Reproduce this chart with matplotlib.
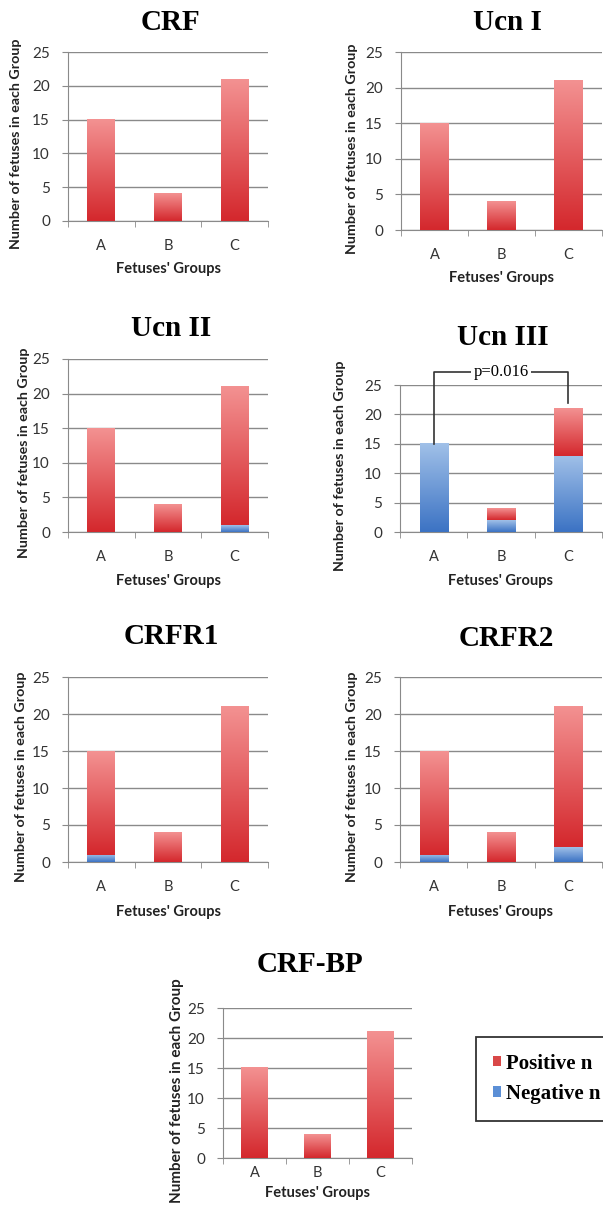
import numpy as np
import matplotlib
matplotlib.use("Agg")
import matplotlib.pyplot as plt
from matplotlib.patches import Patch

groups = ["A", "B", "C"]
titles = ["CRF", "Ucn I", "Ucn II", "Ucn III", "CRFR1", "CRFR2", "CRF-BP"]
negative = [[0, 0, 0], [0, 0, 0], [0, 0, 1], [15, 2, 13], [1, 0, 0], [1, 0, 2], [0, 0, 0]]
positive = [[15, 4, 21], [15, 4, 21], [15, 4, 20], [0, 2, 8], [14, 4, 21], [14, 4, 19], [15, 4, 21]]
yticks = [0, 5, 10, 15, 20, 25]
p_text = "p=0.016"

W, H = 603, 1217
fig = plt.figure(figsize=(W / 100, H / 100), dpi=100)

# axes boxes in pixels: left, right, top, bottom
boxes = [(68, 268, 52, 221), (401, 602, 52, 230),
         (68, 268, 359, 532), (400, 602, 385, 532),
         (68, 268, 677, 862), (400, 602, 677, 862),
         (223, 412, 1008, 1158)]
title_pos = [(171, 23), (507, 23), (171, 328), (503, 337), (171, 637), (506, 638), (310, 965)]
ylab_x = [16, 352, 24, 340, 21, 352, 177]
ylab_size = [10.3, 10.3, 10.3, 10.3, 10.3, 10.3, 11]
xlab_y = [269, 278, 581, 581, 912, 912, 1193]
xtick_pad = [13, 13, 13, 13, 13, 13, 6]

sans = "Lato"
serif = "Liberation Serif"
grey = "#8a8a8a"

red_top, red_bot = np.array([243, 145, 145]) / 255, np.array([212, 40, 45]) / 255
blue_top, blue_bot = np.array([160, 192, 232]) / 255, np.array([60, 115, 196]) / 255


def shade(ax, bars, top, bot):
    t = np.linspace(0, 1, 64)[:, None]
    img = (bot[None, :] * (1 - t) + top[None, :] * t)[:, None, :]
    for p in bars:
        h = p.get_height()
        if h <= 0:
            continue
        x, y, w = p.get_x(), p.get_y(), p.get_width()
        ax.imshow(img, extent=[x, x + w, y, y + h], origin="lower",
                  aspect="auto", interpolation="bilinear", zorder=3)


for i, title in enumerate(titles):
    l, r, t, b = boxes[i]
    ax = fig.add_axes([l / W, 1 - b / H, (r - l) / W, (b - t) / H])
    x = np.arange(len(groups))
    nb = ax.bar(x, negative[i], width=0.42, color=blue_bot, zorder=2)
    pb = ax.bar(x, positive[i], width=0.42, bottom=negative[i], color=red_bot, zorder=2)
    shade(ax, nb, blue_top, blue_bot)
    shade(ax, pb, red_top, red_bot)
    ax.set_xlim(-0.5, 2.5)
    ax.set_ylim(0, 25)
    ax.set_yticks(yticks)
    ax.set_xticks(x)
    ax.set_xticklabels(groups)
    ax.set_xticks([-0.5, 0.5, 1.5, 2.5], minor=True)
    ax.tick_params(axis="x", which="major", length=0, pad=xtick_pad[i], labelsize=10.5,
                   labelcolor="#333333")
    ax.tick_params(axis="x", which="minor", length=4, color=grey, direction="out")
    ax.tick_params(axis="y", length=4, color=grey, pad=9, labelsize=11, labelcolor="#333333")
    for lab in ax.get_xticklabels() + ax.get_yticklabels():
        lab.set_family(sans)
    ax.grid(axis="y", color=grey, linewidth=1, zorder=0)
    ax.set_axisbelow(True)
    for s in ["top", "right"]:
        ax.spines[s].set_visible(False)
    for s in ["left", "bottom"]:
        ax.spines[s].set_color(grey)
    ax.set_facecolor("none")

    fig.text(title_pos[i][0] / W, 1 - title_pos[i][1] / H, title, family=serif,
             weight="bold", fontsize=21, ha="center", va="center")
    fig.text(ylab_x[i] / W, 1 - (t + b) / 2 / H - 0.006, "Number of fetuses in each Group",
             family=sans, weight="bold", fontsize=ylab_size[i], rotation=90,
             ha="center", va="center", color="#222222")
    fig.text((l + r) / 2 / W, 1 - xlab_y[i] / H, "Fetuses' Groups", family=sans,
             weight="bold", fontsize=10.5, ha="center", va="center", color="#222222")

    if title == "Ucn III":
        top_a = negative[i][0] + positive[i][0]
        top_c = negative[i][2] + positive[i][2]
        ax.plot([0, 0, 2, 2], [top_a, 27.2, 27.2, top_c + 1], color="#333333",
                linewidth=1.2, clip_on=False, zorder=5)
        ax.text(1, 27.2, p_text, family=serif, fontsize=12, ha="center", va="center",
                bbox=dict(facecolor="white", edgecolor="none", pad=1.5), zorder=6,
                clip_on=False)

handles = [Patch(facecolor="#d94848", label="Positive n"),
           Patch(facecolor="#5b8fd6", label="Negative n")]
leg = fig.legend(handles=handles, loc="upper left", bbox_to_anchor=(476 / W, 1 - 1037 / H),
                 prop={"family": serif, "weight": "bold", "size": 15},
                 handlelength=0.4, handleheight=0.4, handletextpad=0.25,
                 fancybox=False, edgecolor="#333333", framealpha=1,
                 borderpad=0.8, labelspacing=0.5, borderaxespad=0)
leg.get_frame().set_linewidth(1.3)

fig.savefig("out.png", dpi=100)
